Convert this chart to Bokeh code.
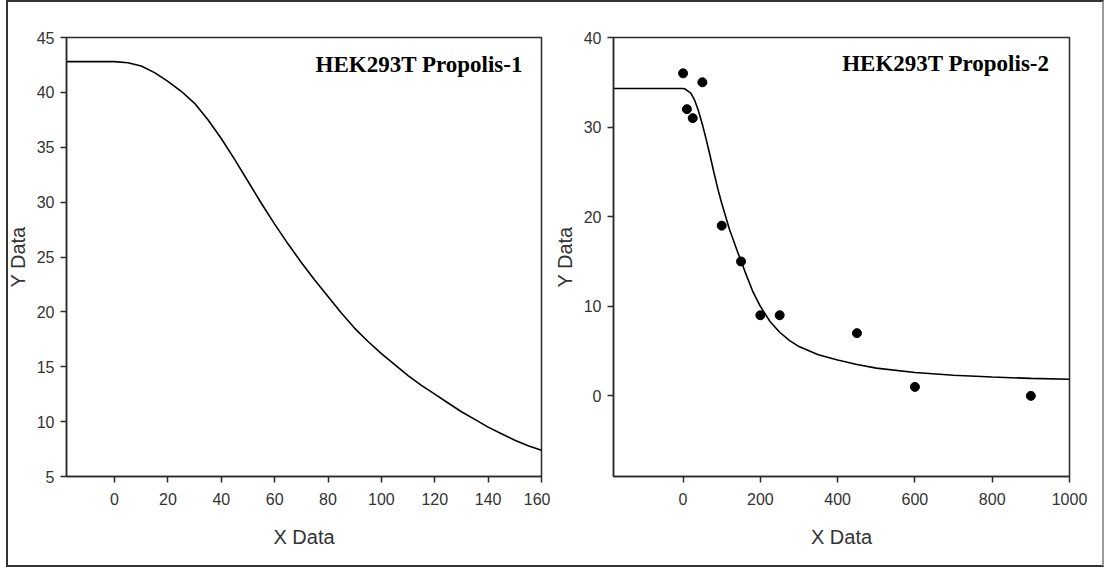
from bokeh.plotting import figure
from bokeh.models import Label, FixedTicker, Range1d, InlineStyleSheet
from bokeh.layouts import row
from bokeh.embed import file_html
from bokeh.resources import INLINE

# ---------------- data: panel 1 (fitted curve only) ----------------
title1 = "HEK293T Propolis-1"
curve1_x = [-18, 0, 5, 10, 15, 20, 25, 30, 35, 40, 45, 50, 55, 60, 65, 70, 75, 80,
            85, 90, 95, 100, 105, 110, 115, 120, 125, 130, 135, 140, 145, 150, 155, 160]
curve1_y = [42.8, 42.8, 42.7, 42.4, 41.8, 41.0, 40.1, 39.0, 37.5, 35.8, 33.9, 31.9,
            29.9, 28.0, 26.2, 24.5, 22.9, 21.4, 19.9, 18.5, 17.3, 16.2, 15.2, 14.2,
            13.3, 12.5, 11.7, 10.9, 10.2, 9.5, 8.9, 8.3, 7.8, 7.4]
ticks1_x = [0, 20, 40, 60, 80, 100, 120, 140, 160]
ticks1_y = [5, 10, 15, 20, 25, 30, 35, 40, 45]

# ---------------- data: panel 2 (points + fitted curve) ----------------
title2 = "HEK293T Propolis-2"
points2_x = [0, 10, 25, 50, 100, 150, 200, 250, 450, 600, 900]
points2_y = [36, 32, 31, 35, 19, 15, 9, 9, 7, 1, 0]
curve2_x = [-180, 0, 5, 10, 20, 30, 40, 50, 60, 70, 80, 90, 100, 120, 140, 160, 180, 200,
            225, 250, 275, 300, 350, 400, 450, 500, 600, 700, 800, 900, 1000]
curve2_y = [34.3, 34.3, 34.25, 34.1, 33.8, 33.0, 31.8, 30.3, 28.6, 26.8, 24.9, 23.1, 21.5,
            18.6, 16.2, 13.9, 11.7, 10.0, 8.3, 7.1, 6.2, 5.5, 4.6, 4.0, 3.5, 3.1,
            2.6, 2.3, 2.1, 1.95, 1.85]
ticks2_x = [0, 200, 400, 600, 800, 1000]
ticks2_y = [0, 10, 20, 30, 40]

x_label = "X Data"
y_label = "Y Data"

FRAME = "#2b2b2b"
TICKFONT = "Liberation Sans"


def style(p, xt, yt):
    p.grid.visible = False
    p.outline_line_color = FRAME
    p.outline_line_width = 1.5
    p.outline_line_alpha = 1.0
    p.background_fill_color = "white"
    p.border_fill_color = "white"
    for ax in (p.xaxis[0], p.yaxis[0]):
        ax.axis_line_color = FRAME
        ax.axis_line_width = 1.5
        ax.major_tick_line_color = FRAME
        ax.major_tick_line_width = 1.5
        ax.major_tick_in = 0
        ax.major_tick_out = 6
        ax.minor_tick_line_color = None
        ax.major_label_text_font = TICKFONT
        ax.major_label_text_font_size = "16px"
        ax.major_label_text_color = "#333333"
        ax.axis_label_text_font = "Liberation Sans"
        ax.axis_label_text_font_size = "20px"
        ax.axis_label_text_font_style = "normal"
        ax.axis_label_text_color = "#333333"
    p.xaxis[0].ticker = FixedTicker(ticks=xt)
    p.yaxis[0].ticker = FixedTicker(ticks=yt)
    p.xaxis[0].axis_label = x_label
    p.yaxis[0].axis_label = y_label
    p.xaxis[0].major_label_standoff = 10
    p.yaxis[0].major_label_standoff = 6
    p.xaxis[0].axis_label_standoff = 18
    p.yaxis[0].axis_label_standoff = 5


# ---------------- panel 1 ----------------
p1 = figure(width=550, height=567, output_backend="svg", toolbar_location=None,
            x_range=Range1d(-18, 160), y_range=Range1d(5, 45),
            min_border_left=66, min_border_right=9, min_border_top=32,
            min_border_bottom=91)
style(p1, ticks1_x, ticks1_y)
p1.line(curve1_x, curve1_y, line_color="black", line_width=1.6)
p1.add_layout(Label(x=153, y=42.57, text=title1, text_align="right",
                    text_baseline="alphabetic", text_font="Liberation Serif",
                    text_font_style="bold", text_font_size="23px",
                    text_color="black"))

# ---------------- panel 2 ----------------
p2 = figure(width=555, height=567, output_backend="svg", toolbar_location=None,
            x_range=Range1d(-180, 1000), y_range=Range1d(-9, 40),
            min_border_left=63, min_border_right=36, min_border_top=37,
            min_border_bottom=88)
style(p2, ticks2_x, ticks2_y)
p2.line(curve2_x, curve2_y, line_color="black", line_width=1.6)
p2.scatter(points2_x, points2_y, size=9, color="black")
p2.add_layout(Label(x=948, y=37.06, text=title2, text_align="right",
                    text_baseline="alphabetic", text_font="Liberation Serif",
                    text_font_style="bold", text_font_size="23px",
                    text_color="black"))

border_css = InlineStyleSheet(css="""
:host { position: relative; }
:host::after {
  content: '';
  position: absolute;
  left: 6px; top: 0px; width: 1098px; height: 567px;
  box-sizing: border-box;
  border: 2px solid #333333;
  border-right-color: #9a9a9a;
  pointer-events: none;
  z-index: 100;
}
""")

layout = row(p1, p2, stylesheets=[border_css])

open("out.html", "w").write(file_html(layout, INLINE))
